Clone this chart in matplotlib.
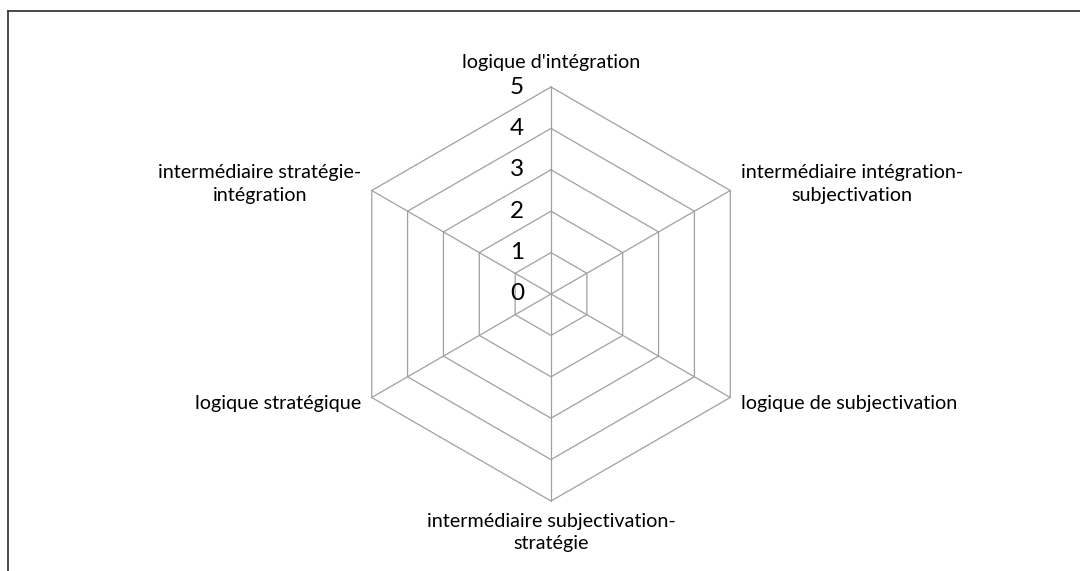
import numpy as np
import matplotlib
matplotlib.use("Agg")
import matplotlib.pyplot as plt
from matplotlib.lines import Line2D

plt.rcParams['font.family'] = ['Lato', 'DejaVu Sans']

categories = ["logique d'intégration",
              "intermédiaire intégration-\nsubjectivation",
              "logique de subjectivation",
              "intermédiaire subjectivation-\nstratégie",
              "logique stratégique",
              "intermédiaire stratégie-\nintégration"]
levels = [0, 1, 2, 3, 4, 5]
tick_labels = ["0", "1", "2", "3", "4", "5"]

W, H = 1080, 571
fig = plt.figure(figsize=(W / 100, H / 100), dpi=100)

# pixel placement of the radar centre and the scale (px per unit)
cx, cy, unit = 551, 294, 41.4
ax = fig.add_axes([0, 0, 1, 1])
ax.set_xlim(-cx / unit, (W - cx) / unit)
ax.set_ylim(-(H - cy) / unit, cy / unit)
ax.axis('off')

n = len(categories)
angles = np.pi / 2 - np.arange(n) * 2 * np.pi / n
rmax = max(levels)
grid = '#a0a0a0'
fs = 14.2
ls = 1.4

# concentric hexagons
for lv in levels[1:]:
    xs = lv * np.cos(np.append(angles, angles[0]))
    ys = lv * np.sin(np.append(angles, angles[0]))
    ax.plot(xs, ys, color=grid, lw=0.9, solid_joinstyle='miter')

# spokes
for a in angles:
    ax.plot([0, rmax * np.cos(a)], [0, rmax * np.sin(a)], color=grid, lw=0.9)

# value labels along the top spoke
for lv, t in zip(levels, tick_labels):
    ax.text(-0.82, lv, t, ha='center', va='center', fontsize=17.5, color='black')

# category labels
pad = 0.25
for a, lab in zip(angles, categories):
    x, y = rmax * np.cos(a), rmax * np.sin(a)
    c, s = np.cos(a), np.sin(a)
    if abs(c) < 1e-6:
        if s > 0:
            ax.text(x, y + 0.38, lab, ha='center', va='bottom', fontsize=fs, linespacing=ls)
        else:
            ax.text(x, y - 0.28, lab, ha='center', va='top', fontsize=fs, linespacing=ls)
    else:
        dy = 0.15 * np.sign(s)
        if c > 0:
            ax.text(x + pad, y + dy, lab, ha='left', va='center', fontsize=fs,
                    multialignment='center', linespacing=ls)
        else:
            ax.text(x - pad, y + dy, lab, ha='right', va='center', fontsize=fs,
                    multialignment='center', linespacing=ls)

# chart-area border (only top and left visible in crop)
fig.add_artist(Line2D([8 / W, 8 / W], [0, 1 - 11 / H], color='#3a3a3a', lw=1.3,
                      transform=fig.transFigure))
fig.add_artist(Line2D([8 / W, 1], [1 - 11 / H, 1 - 11 / H], color='#3a3a3a', lw=1.3,
                      transform=fig.transFigure))

fig.savefig('out.png', dpi=100, facecolor='white')
